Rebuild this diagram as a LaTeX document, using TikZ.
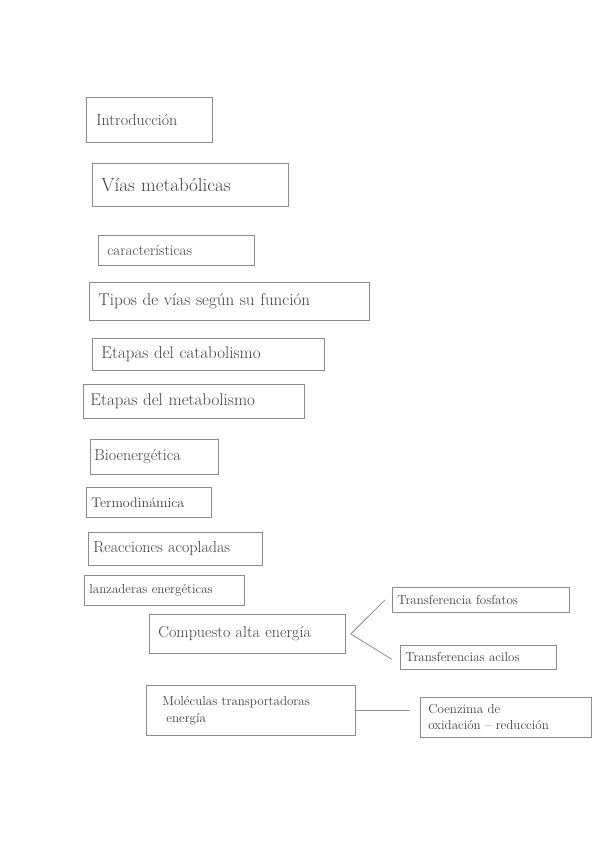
\documentclass[tikz,border=0pt]{standalone}
\usepackage{fontspec}
\begin{document}
\begin{tikzpicture}[x=1pt,y=-1pt,
  box/.style={draw=black!45, line width=0.8pt, rectangle, anchor=north west, inner xsep=9pt, inner ysep=0pt, align=left, text=black!75, font=\fontsize{15}{17}\selectfont},
  conn/.style={draw=black!45, line width=0.8pt}]
\useasboundingbox (0,0) rectangle (600,848);
\node[box, text width=106pt, minimum height=45pt, inner xsep=10pt, font=\fontsize{16}{18}\selectfont] (intro) at (86,97) {Introducción};
\node[box, text width=178pt, minimum height=43pt, font=\fontsize{19}{21}\selectfont] (vias) at (92,163) {Vías metabólicas};
\node[box, text width=138pt, minimum height=30pt] (carac) at (98,235) {características};
\node[box, text width=262pt, minimum height=38pt, font=\fontsize{17}{19}\selectfont] (tipos) at (89,282) {Tipos de vías según su función};
\node[box, text width=214pt, minimum height=32pt, font=\fontsize{17}{19}\selectfont] (cata) at (92,338) {Etapas del catabolismo};
\node[box, text width=207pt, minimum height=34pt, inner xsep=7pt, font=\fontsize{17}{19}\selectfont] (meta) at (83,384) {Etapas del metabolismo};
\node[box, text width=120pt, minimum height=35pt, inner xsep=4pt, font=\fontsize{16}{18}\selectfont] (bio) at (90,439) {Bioenergética};
\node[box, text width=115pt, minimum height=30pt, inner xsep=5pt, font=\fontsize{14}{16}\selectfont] (termo) at (86,487) {Termodinámica};
\node[box, text width=164pt, minimum height=33pt, inner xsep=5pt, font=\fontsize{16}{18}\selectfont] (reac) at (88,532) {Reacciones acopladas};
\node[box, text width=150pt, minimum height=30pt, inner xsep=5pt, font=\fontsize{13}{15}\selectfont] (lanz) at (84,575) {lanzaderas energéticas};
\node[box, text width=178pt, minimum height=39pt, font=\fontsize{16}{18}\selectfont] (comp) at (149,614) {Compuesto alta energía};
\node[box, text width=167pt, minimum height=25pt, inner xsep=5pt, font=\fontsize{13}{15}\selectfont] (tf) at (392,587) {Transferencia fosfatos};
\node[box, text width=146pt, minimum height=24pt, inner xsep=5pt, font=\fontsize{13}{15}\selectfont] (ta) at (400,645) {Transferencias acilos};
\node[box, text width=177pt, minimum height=50pt, inner xsep=16pt, font=\fontsize{13}{17}\selectfont] (mol) at (146,685) {Moléculas transportadoras\\\hspace*{4pt}energía};
\node[box, text width=155pt, minimum height=40pt, inner xsep=8pt, font=\fontsize{13}{16}\selectfont] (coen) at (420,697) {Coenzima de\\oxidación -- reducción};
\draw[conn] ([xshift=5pt]comp.east) -- ([xshift=-7pt]tf.west);
\draw[conn] ([xshift=5pt]comp.east) -- ([xshift=-8pt,yshift=-2pt]ta.west);
\draw[conn] (mol.east) -- ([xshift=-10pt]mol.east -| coen.west);
\end{tikzpicture}
\end{document}
